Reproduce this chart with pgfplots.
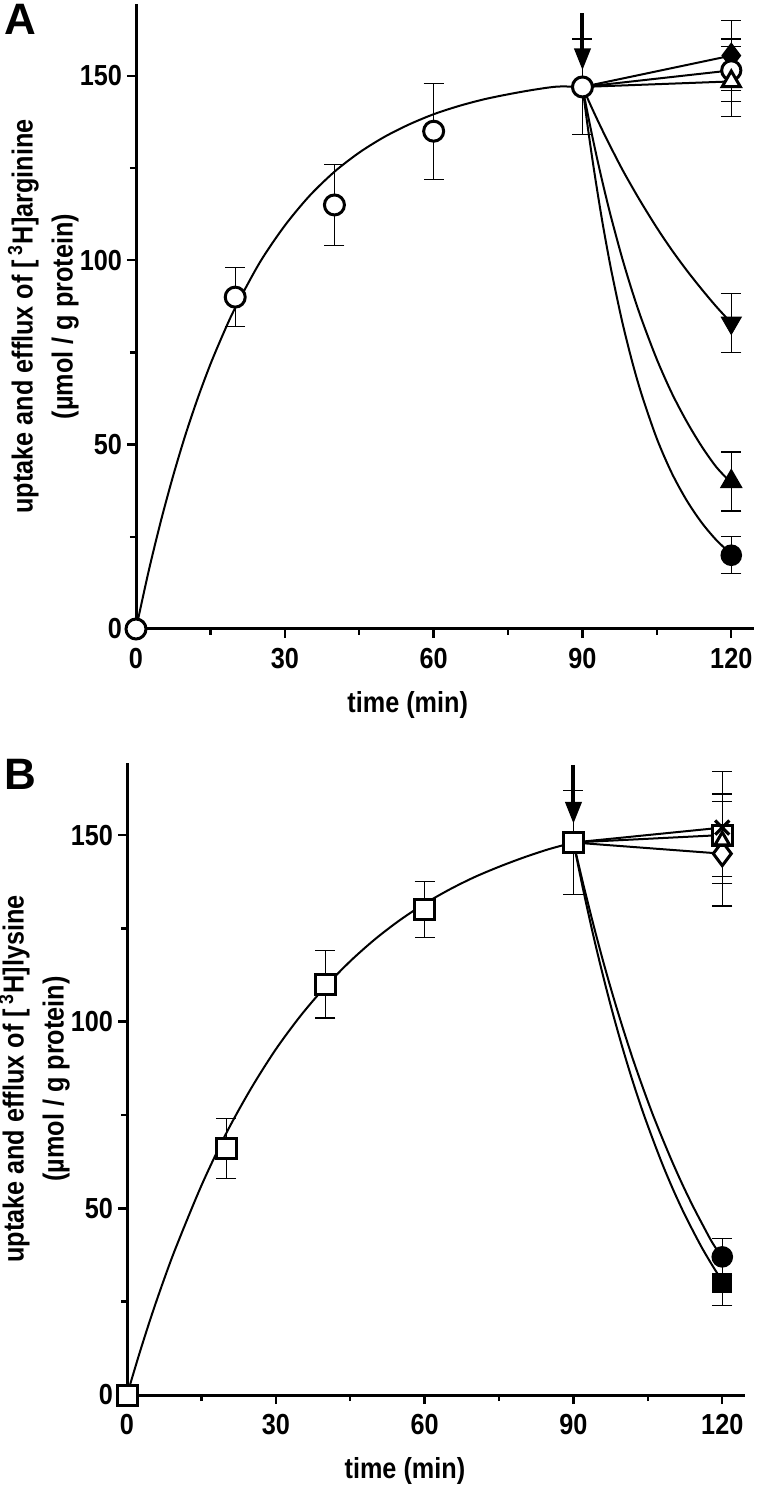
\documentclass[border=0pt]{standalone}
\usepackage{fontspec}
\setmainfont{Liberation Sans}
\newfontfamily\cond{Liberation Sans}[FakeStretch=0.87]
\usepackage{pgfplots}
\pgfplotsset{compat=1.18}
\usetikzlibrary{arrows.meta}

\pgfplotsset{
 prismaxis/.style={
  scale only axis, clip=false, axis on top,
  axis x line*=bottom, axis y line*=left,
  xmin=0, xmax=124.5, ymin=0,
  xtick={0,30,60,90,120}, xticklabels={0,30,60,90,120},
  minor xtick={15,45,75,105},
  ytick={0,50,100,150}, yticklabels={0,50,100,150},
  minor ytick={25,75,125},
  tick align=outside, major tick length=4.5pt, minor tick length=3pt,
  axis line style={-, line width=1.5pt},
  tick style={line width=1.2pt, black},
  tick label style={font=\cond\bfseries\fontsize{14.5}{14.5}\selectfont},
  yticklabel style={xshift=1pt},
  xticklabel style={yshift=-1.5pt},
  label style={font=\cond\bfseries\fontsize{14.5}{20}\selectfont},
  xlabel={time (min)},
  ylabel style={align=center, at={(axis description cs:-0.15,0.5)}, anchor=center},
 },
 curve/.style={line width=1pt, black, no markers},
 ebar/.style={error bars/.cd, y dir=both, y explicit,
   error bar style={line width=0.6pt, black},
   error mark options={rotate=90, mark size=5pt, line width=0.6pt, black}},
 openmark/.style={only marks, mark options={fill=white, draw=black, line width=1.5pt}},
 fillmark/.style={only marks, mark options={fill=black, draw=black, line width=0.8pt}},
}

\begin{document}
\begin{tikzpicture}
\useasboundingbox (0,0) rectangle (380pt,744pt);

\node[font=\bfseries\fontsize{22}{22}\selectfont] at (10pt,734.5pt) {A};
\node[font=\bfseries\fontsize{22}{22}\selectfont] at (10pt,357pt) {B};

% ---------------- Panel A ----------------
\begin{axis}[prismaxis,
  at={(68pt,429.5pt)}, anchor=south west,
  width=308.8pt, height=312.5pt, ymax=169.5,
  xlabel style={at={(axis description cs:0.44,0)}, yshift=-38pt, anchor=center},
  ylabel={uptake and efflux of [\,\textsuperscript{3}H]arginine\\(µmol / g protein)},
]
\addplot[curve, smooth] coordinates {(0,0)(2.5,15.4)(5,29.2)(7.5,41.6)(10,52.8)(12.5,62.8)(15,71.8)(17.5,79.8)(20,87.1)(25,99.5)(30,109.4)(35,117.5)(40,124.0)(45,129.2)(50,133.4)(55,136.8)(60,139.6)(65,141.8)(70,143.6)(75,145.0)(80,146.2)(85,147.1)(90,147)};
\addplot[curve, smooth] coordinates {(90,147)(91,136.8)(92,127.4)(93,118.7)(94,110.5)(95,103.0)(96,96.0)(98,83.4)(100,72.6)(102,63.3)(105,51.6)(108,42.3)(111,34.9)(114,28.9)(117,24.1)(120,20.3)};
\addplot[curve, smooth] coordinates {(90,147)(91,140.1)(92,133.5)(93,127.3)(94,121.4)(95,115.8)(96,110.5)(98,100.6)(100,91.7)(102,83.7)(105,73.1)(108,64.0)(111,56.3)(114,49.6)(117,43.9)(120,39.6)};
\addplot[curve, smooth] coordinates {(90,147)(92,141.0)(94,135.3)(96,129.9)(98,124.7)(100,119.9)(102,115.3)(105,108.8)(108,102.8)(111,97.3)(114,92.2)(117,87.4)(120,83.0)};
\addplot[curve] coordinates {(90,147)(120,155.5)};
\addplot[curve] coordinates {(90,147)(120,151.5)};
\addplot[curve] coordinates {(90,147)(120,148.5)};

\draw[line width=2pt, -{Triangle[width=8pt,length=11pt]}] (axis cs:90,167) -- (axis cs:90,151.5);

% markers at 120
\addplot[fillmark, mark=*, mark size=5pt, ebar] coordinates {(120,20) +- (0,5)};
\addplot[fillmark, mark=triangle*, mark size=5.8pt, ebar] coordinates {(120,40) +- (0,8)};
\addplot[fillmark, mark=triangle*, mark size=5.8pt, mark options={rotate=180}, ebar] coordinates {(120,83) +- (0,8)};
\addplot[fillmark, mark=diamond*, mark size=6pt, ebar] coordinates {(120,155.5) +- (0,9.5)};
\addplot[openmark, mark=*, mark size=4.8pt, ebar] coordinates {(120,151.5) +- (0,8.5)};
\addplot[openmark, mark=triangle*, mark size=5.2pt, ebar] coordinates {(120,148.5) +- (0,9.5)};
% uptake markers
\addplot[openmark, mark=*, mark size=5pt, ebar] coordinates {(0,0) +- (0,0) (20,90) +- (0,8) (40,115) +- (0,11) (60,135) +- (0,13) (90,147) +- (0,13)};
\end{axis}

% ---------------- Panel B ----------------
\begin{axis}[prismaxis,
  at={(63.5pt,46.5pt)}, anchor=south west,
  width=308.8pt, height=316pt, ymax=169.3,
  xlabel style={at={(axis description cs:0.45,0)}, yshift=-38pt, anchor=center},
  ylabel={uptake and efflux of [\,\textsuperscript{3}H]lysine\\(µmol / g protein)},
]
\addplot[curve, smooth] coordinates {(0,0)(2.5,11.1)(5,21.5)(7.5,31.1)(10,40.0)(15,56.1)(20,70.1)(25,82.1)(30,92.6)(35,101.6)(40,109.4)(45,116.2)(50,122.1)(55,127.2)(60,131.6)(65,135.4)(70,138.7)(75,141.5)(80,144.0)(85,146.2)(90,148.0)};
\addplot[curve, smooth] coordinates {(90,148)(92,135.1)(94,123.1)(96,112.1)(98,101.9)(100,92.5)(102,83.8)(104,75.8)(106,68.5)(108,61.6)(110,55.3)(112,49.5)(114,44.2)(116,39.2)(118,34.7)(120,30.5)};
\addplot[curve, smooth] coordinates {(90,148)(92,136.7)(94,126.1)(96,116.1)(98,106.8)(100,98.1)(102,89.9)(104,82.3)(106,75.1)(108,68.5)(110,62.2)(112,56.3)(114,50.8)(116,45.7)(118,40.8)(120,36.8)};
\addplot[curve] coordinates {(90,148)(120,152)};
\addplot[curve] coordinates {(90,148)(120,150)};
\addplot[curve] coordinates {(90,148)(120,145)};

\draw[line width=2pt, -{Triangle[width=8pt,length=11pt]}] (axis cs:90,168.8) -- (axis cs:90,153);

\addplot[fillmark, mark=square*, mark size=4.7pt, ebar] coordinates {(120,30) +- (0,6)};
\addplot[fillmark, mark=*, mark size=5pt, ebar] coordinates {(120,37) +- (0,5)};
\addplot[openmark, mark=diamond*, mark size=6pt, ebar] coordinates {(120,145) +- (0,14)};
\addplot[openmark, mark=square*, mark size=5pt, ebar] coordinates {(120,150) +- (0,11)};
\addplot[openmark, mark=triangle*, mark size=4.2pt] coordinates {(120,148.5)};
\addplot[only marks, mark=x, mark size=5pt, mark options={line width=1.6pt, black}, ebar] coordinates {(120,152) +- (0,15)};
\addplot[openmark, mark=square*, mark size=5pt, ebar] coordinates {(0,0) +- (0,0) (20,66) +- (0,8) (40,110) +- (0,9) (60,130) +- (0,7.5) (90,148) +- (0,14)};
\end{axis}
\end{tikzpicture}
\end{document}
